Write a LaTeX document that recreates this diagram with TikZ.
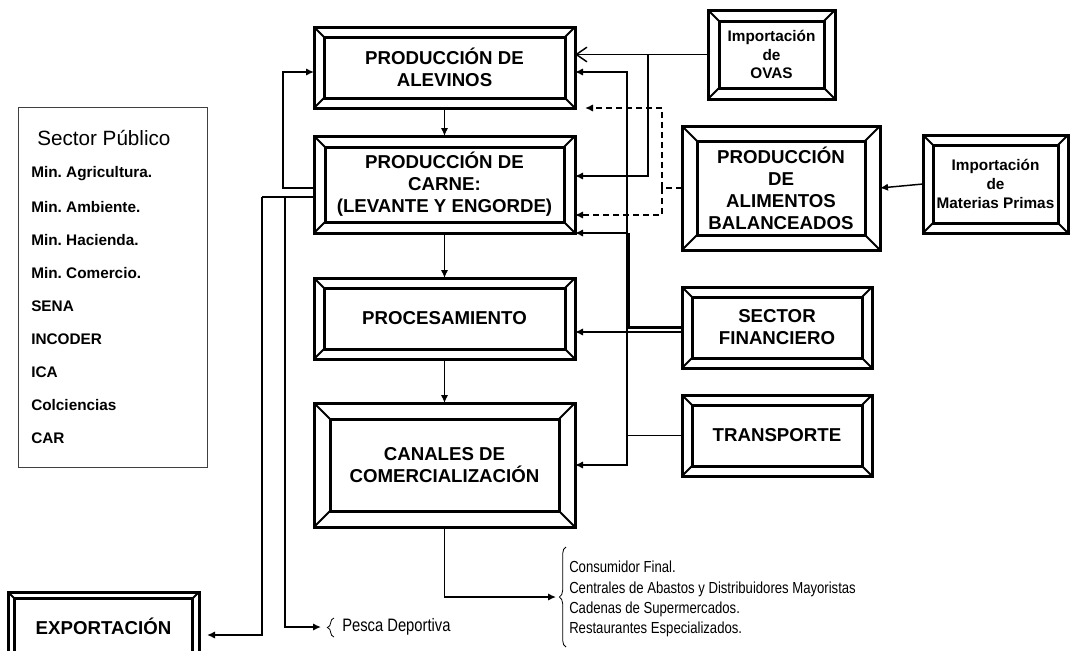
\documentclass[tikz,border=0pt]{standalone}
\usepackage{fontspec}
\setmainfont{Liberation Sans}
\newfontfamily\narrowfont{Liberation Sans}[FakeStretch=0.82]
\usetikzlibrary{arrows.meta,calc,decorations.pathreplacing}
\frenchspacing

\tikzset{
 bev/.style={draw, line width=2.25pt, inner sep=0pt, outer sep=0pt, align=center,
   font=\bfseries\fontsize{14}{16.5}\selectfont},
 bevsmall/.style={bev, font=\bfseries\fontsize{11.5}{14.2}\selectfont},
 bevin/.style={line width=2.25pt, line join=miter},
 bevdiag/.style={line width=1.5pt},
 conn/.style={line width=1.1pt},
 arr/.style={conn, -{Latex[length=6pt,width=5.5pt]}},
 oarr/.style={conn, -{Straight Barb[length=8pt,width=11pt]}},
 darr/.style={arr, dash pattern=on 4.5pt off 3pt},
 dline/.style={conn, dash pattern=on 4.5pt off 3pt},
 sptext/.style={anchor=west, inner sep=0pt, font=\bfseries\fontsize{11.5}{14}\selectfont},
 listtext/.style={anchor=west, inner sep=0pt, align=left, font=\narrowfont\fontsize{12}{15.2}\selectfont},
 bracestyle/.style={line width=0.6pt, decorate, decoration={brace, amplitude=5pt}},
}

% [style] name cx cy w h bevel text
\newcommand\bevbox[8][bev]{%
 \node[#1, minimum width=#5*0.75pt, minimum height=#6*0.75pt] (#2) at (#3,#4) {#8};
 \draw[bevin] ($(#2.north west)+(#7,#7)$) rectangle ($(#2.south east)+(-#7,-#7)$);
 \draw[bevdiag] (#2.north west) -- ++(#7,#7) (#2.north east) -- ++(-#7,#7)
   (#2.south west) -- ++(#7,-#7) (#2.south east) -- ++(-#7,-#7);
}

\begin{document}
\begin{tikzpicture}[x=0.75pt,y=-0.75pt]
\useasboundingbox (0,0) rectangle (1071,650);
\clip (0,0) rectangle (1071,650);

% boxes
\bevbox{alev}{444.5}{67.5}{261}{81}{10}{PRODUCCIÓN DE\\ALEVINOS}
\bevbox{carne}{444.5}{184.5}{261}{97}{11}{PRODUCCIÓN DE\\CARNE:\\(LEVANTE Y ENGORDE)}
\bevbox{proc}{444.5}{318.5}{261}{81}{10}{PROCESAMIENTO}
\bevbox{canal}{444.5}{465}{261}{124}{16}{CANALES DE\\COMERCIALIZACIÓN}
\bevbox[bevsmall]{ovas}{771.5}{54.5}{127}{89}{11}{Importación\\de\\OVAS}
\bevbox{alim}{781}{188}{198}{124}{15}{PRODUCCIÓN\\DE\\ALIMENTOS\\BALANCEADOS}
\bevbox[bevsmall]{mat}{995.5}{184}{145}{98}{10}{Importación\\de\\Materias Primas}
\bevbox{fin}{777}{327.5}{190}{81}{10}{SECTOR\\FINANCIERO}
\bevbox{trans}{777}{435.5}{190}{81}{10}{TRANSPORTE}
\bevbox{expo}{103.5}{626}{191}{68}{6.5}{EXPORTACIÓN}

% sector publico
\node[draw=black!75, line width=0.75pt, inner sep=0pt, outer sep=0pt,
  minimum width=189*0.75pt, minimum height=360*0.75pt] (sp) at (112.5,287) {};
\node[anchor=west, inner sep=0pt, font=\fontsize{15.5}{18}\selectfont] (sph) at (37,138) {Sector Público};
\node[sptext] (s1) at (31,174) {Min. Agricultura.};
\node[sptext] (s2) at (31,207) {Min. Ambiente.};
\node[sptext] (s3) at (31,240) {Min. Hacienda.};
\node[sptext] (s4) at (31,273) {Min. Comercio.};
\node[sptext] (s5) at (31,306) {SENA};
\node[sptext] (s6) at (31,339) {INCODER};
\node[sptext] (s7) at (31,372) {ICA};
\node[sptext] (s8) at (31,405) {Colciencias};
\node[sptext] (s9) at (31,438) {CAR};

% bottom texts
\node[listtext, font=\narrowfont\fontsize{13.5}{16}\selectfont] (pesca) at (342,627) {Pesca Deportiva};
\draw[bracestyle] (334,637) -- (334,618);
\coordinate (pbt) at (321,627);
\node[listtext] (lista) at (569,599) {Consumidor Final.\\Centrales de Abastos y Distribuidores Mayoristas\\Cadenas de Supermercados.\\Restaurantes Especializados.};
\draw[bracestyle] (566,647) -- (566,547);
\coordinate (lbt) at (556,597);

% junction coordinates
\coordinate (lp1) at (283,188);
\coordinate (lp2) at (283,72);
\coordinate (ex1) at (262,197);
\coordinate (ex2) at (262,635);
\coordinate (pe1) at (285,197);
\coordinate (pe2) at (285,627);
\coordinate (ov1) at (648,54.5);
\coordinate (cr1) at (648,176);
\coordinate (d0) at (662,188);
\coordinate (d1) at (662,108);
\coordinate (d2) at (662,215);
\coordinate (t1) at (627,72);
\coordinate (t2) at (627,233);
\coordinate (t3) at (627,332);
\coordinate (t4) at (627,465);
\coordinate (f1) at (629,327.5);
\coordinate (f2) at (629,233);

% main chain
\draw[arr] (alev) -- (carne);
\draw[arr] (carne) -- (proc);
\draw[arr] (proc) -- (canal);

% left side
\draw[arr] (carne.west |- lp1) -- (lp1) -- (lp2) -- (alev.west |- lp2);
\draw[conn] (carne.west |- ex1) -- (ex1);
\draw[arr, shorten >=6pt] (ex1) -- (ex2) -- (expo.east |- ex2);
\draw[arr] (pe1) -- (pe2) -- (pbt);

% bottom
\draw[arr] (canal.south) -- (canal.south |- lbt) -- (lbt);

% ovas
\draw[oarr] (ovas.west) -- (ovas.west -| alev.east);
\draw[arr] (ov1) -- (cr1) -- (carne.east |- cr1);

% alimentos (dashed)
\draw[dline] (alim.west) -- (d0);
\draw[darr, shorten >=7.5pt] (d0) -- (d1) -- (alev.south east);
\draw[darr] (d0) -- (d2) -- (carne.east |- d2);

% materias primas
\draw[arr] (mat.west) -- (alim.east);

% transporte
\draw[arr] (trans.west) -- (trans.west -| t4) -- (t4) -- (canal.east |- t4);
\draw[arr] (trans.west -| t4) -- (t1) -- (alev.east |- t1);
\draw[arr] (t2) -- (carne.south east);

% sector financiero
\draw[conn, line width=1.8pt] (fin.west) -- (f1) -- (f2);
\draw[arr] (fin.west |- t3) -- (proc.east |- t3);
\end{tikzpicture}
\end{document}
